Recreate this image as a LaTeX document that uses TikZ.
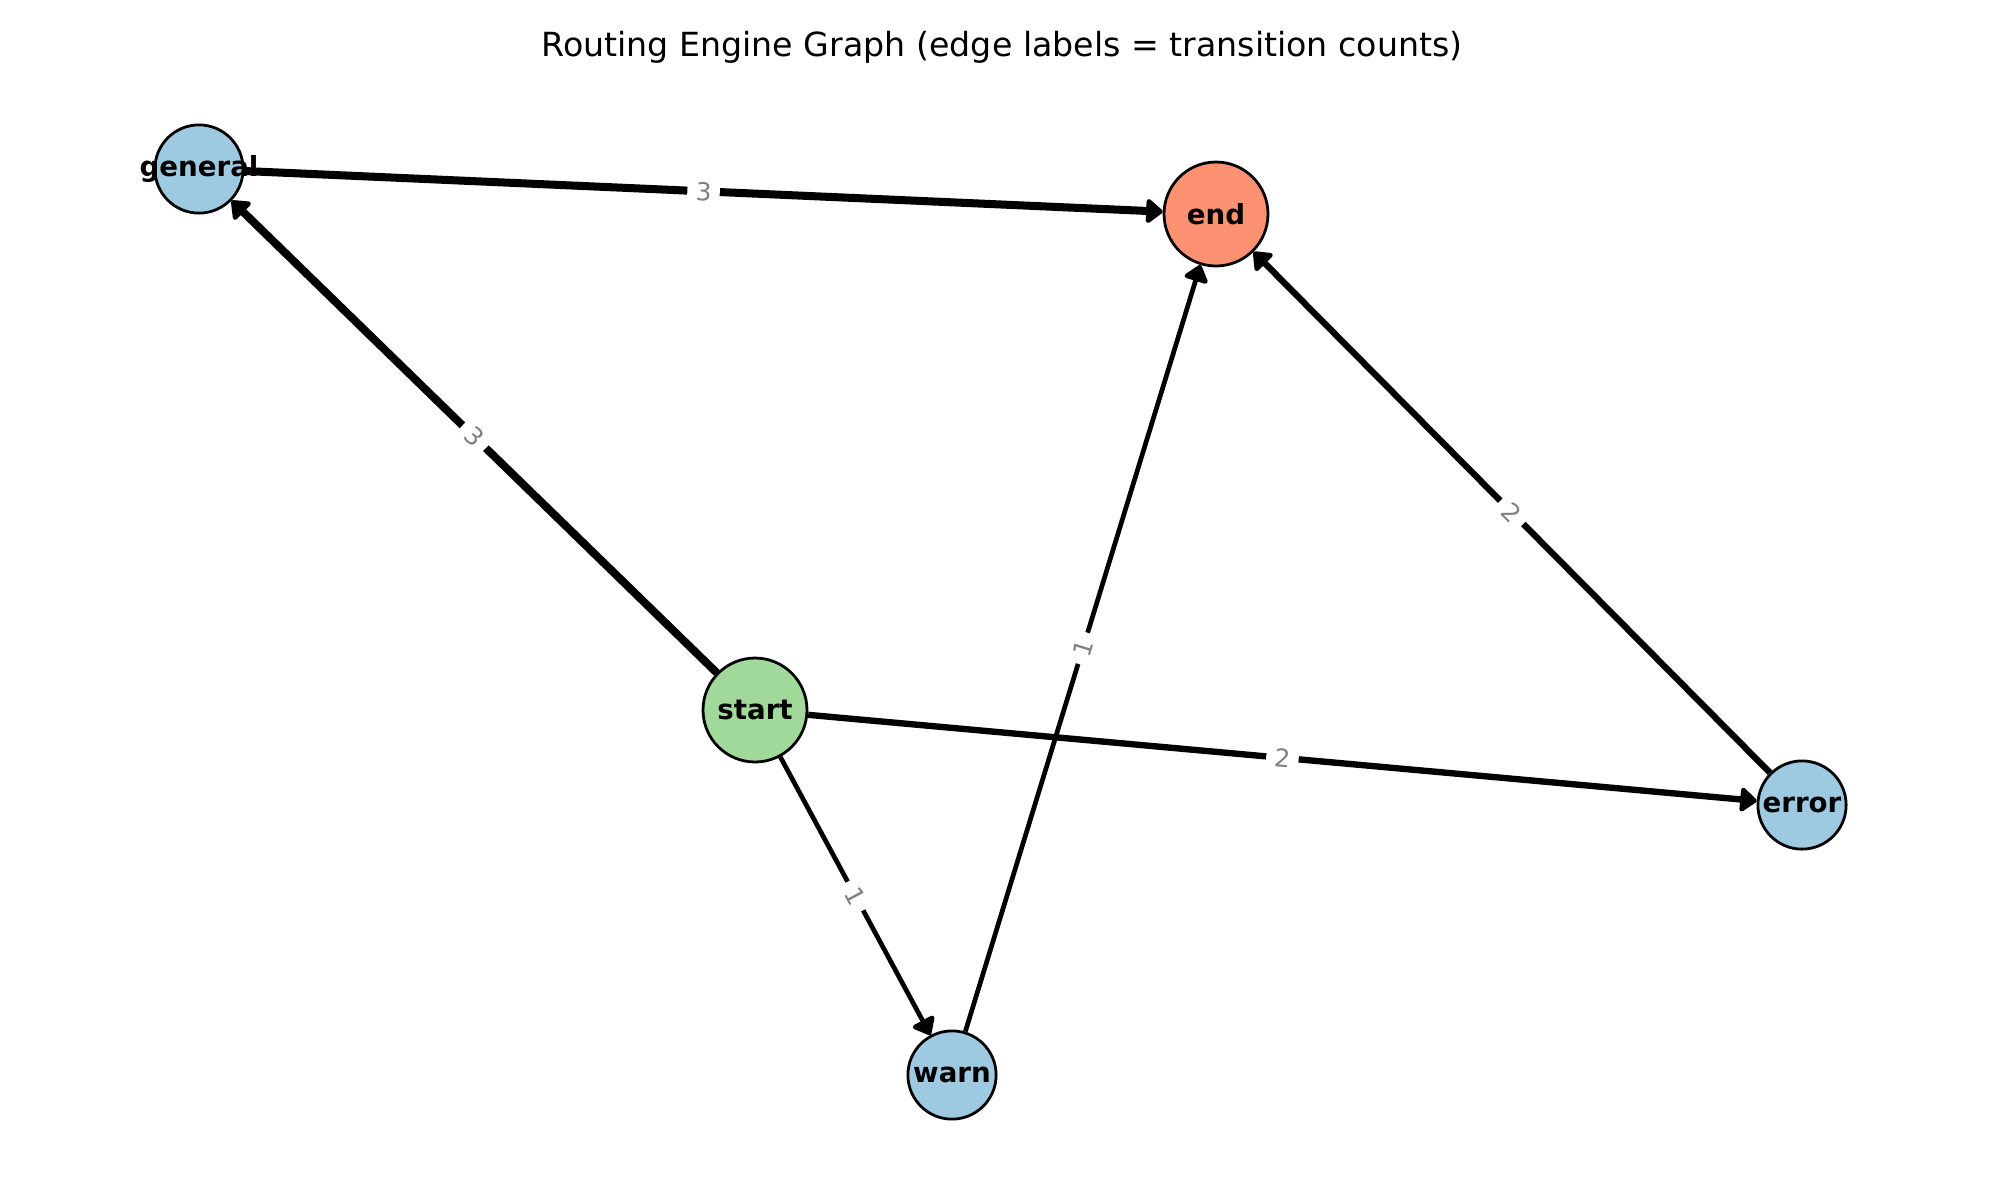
\documentclass[tikz,border=0pt]{standalone}
\usepackage{fontspec}
\setmainfont{DejaVu Sans}
\usetikzlibrary{arrows.meta,backgrounds}
\definecolor{leafblue}{HTML}{9ECAE1}
\definecolor{startgreen}{HTML}{A1D99B}
\definecolor{endred}{HTML}{FC9272}

\begin{document}
\begin{tikzpicture}[x=0.0127cm,y=-0.0127cm,
  vertex/.style={circle,draw=black,line width=1pt,inner sep=0pt},
  leaf/.style={vertex,minimum size=1.12cm,fill=leafblue},
  hub/.style={vertex,minimum size=1.32cm},
  every label/.style={font=\bfseries\fontsize{10}{12}\selectfont},
  trans/.style={-{Triangle[length=6.5pt,width=10pt,round]}},
  count/.style={midway,sloped,fill=white,text=gray,inner sep=3pt,font=\fontsize{9}{10}\selectfont}]
\useasboundingbox (0,0) rectangle (2000,1200);
\node[font=\fontsize{12}{14}\selectfont] (title) at (1002,47) {Routing Engine Graph (edge labels = transition counts)};
% states
\node[leaf,label=center:general] (general) at (199,169) {};
\node[hub,fill=endred,label=center:end] (end) at (1216,214) {};
\node[hub,fill=startgreen,label=center:start] (start) at (755,710) {};
\node[leaf,label=center:error] (error) at (1802,805) {};
\node[leaf,label=center:warn] (warn) at (952,1075) {};
% transitions
\begin{scope}[on background layer]
\draw[trans,line width=2.9pt] (general) -- node[count] {3} (end);
\draw[trans,line width=2.9pt] (start) -- node[count] {3} (general);
\draw[trans,line width=2.3pt] (start) -- node[count] {2} (error);
\draw[trans,line width=2.3pt] (error) -- node[count] {2} (end);
\draw[trans,line width=1.7pt] (start) -- node[count] {1} (warn);
\draw[trans,line width=1.7pt] (warn) -- node[count] {1} (end);
\end{scope}
\end{tikzpicture}
\end{document}
